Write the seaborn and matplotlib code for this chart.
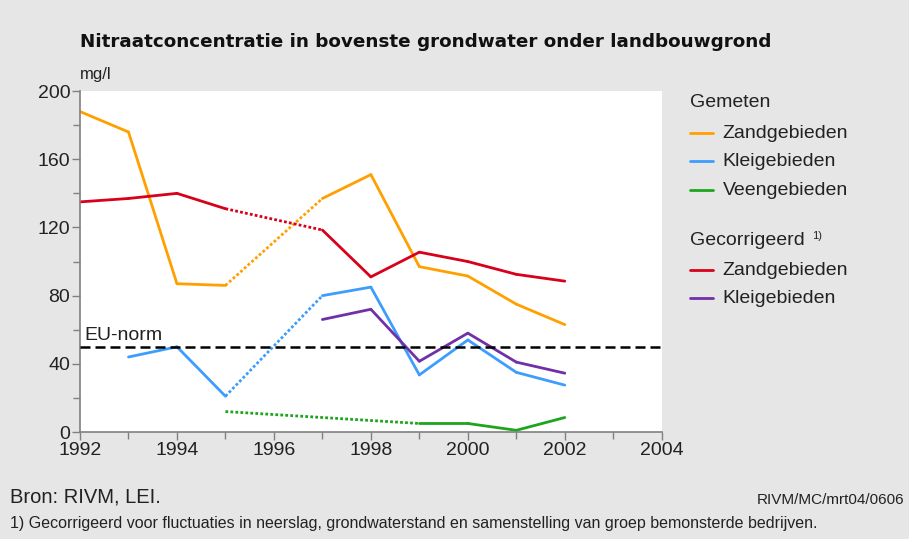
import matplotlib
matplotlib.use("Agg")
import matplotlib.pyplot as plt
import pandas as pd
import seaborn as sns
from matplotlib.lines import Line2D

# measured (gemeten) and corrected (gecorrigeerd) nitrate concentrations, mg/l
years_zand = [1992, 1993, 1994, 1995, 1997, 1998, 1999, 2000, 2001, 2002]
zand_gemeten = [188, 176, 87, 86, 137, 151, 97, 91.5, 75, 63]
years_klei = [1993, 1994, 1995, 1997, 1998, 1999, 2000, 2001, 2002]
klei_gemeten = [44, 50, 21, 80, 85, 33.5, 54, 35, 27.5]
years_veen = [1995, 1999, 2000, 2001, 2002]
veen_gemeten = [12, 5, 5, 1, 8.5]
years_zand_corr = [1992, 1993, 1994, 1995, 1997, 1998, 1999, 2000, 2001, 2002]
zand_gecorrigeerd = [135, 137, 140, 131, 118.5, 91, 105.5, 100, 92.5, 88.5]
years_klei_corr = [1997, 1998, 1999, 2000, 2001, 2002]
klei_gecorrigeerd = [66, 72, 41.5, 58, 41, 34.5]
eu_norm = 50

SERIES = [
    ("Zandgebieden (gemeten)", years_zand, zand_gemeten, "#ffa000"),
    ("Kleigebieden (gemeten)", years_klei, klei_gemeten, "#3d9dff"),
    ("Veengebieden (gemeten)", years_veen, veen_gemeten, "#1ea51e"),
    ("Zandgebieden (gecorrigeerd)", years_zand_corr, zand_gecorrigeerd, "#d8001a"),
    ("Kleigebieden (gecorrigeerd)", years_klei_corr, klei_gecorrigeerd, "#7030a8"),
]


def build_segments() -> pd.DataFrame:
    # consecutive years -> solid piece, a gap in the years -> dotted bridge
    rows = []
    seg = 0
    for name, years, values, _ in SERIES:
        for i in range(len(years) - 1):
            kind = "solid" if years[i + 1] - years[i] == 1 else "dotted"
            seg += 1
            for j in (i, i + 1):
                rows.append({"series": name, "jaar": years[j], "waarde": values[j],
                             "seg": seg, "kind": kind})
    return pd.DataFrame(rows)


df = build_segments()
palette = {name: color for name, _, _, color in SERIES}

sns.set_theme(style="white")
plt.rcParams["font.family"] = ["Liberation Sans", "DejaVu Sans"]

fig = plt.figure(figsize=(9.09, 5.39), dpi=100, facecolor="#e6e6e6")
ax = fig.add_axes([0.088, 0.1985, 0.640, 0.6325])
ax.set_facecolor("white")

sns.lineplot(data=df, x="jaar", y="waarde", hue="series", units="seg", style="kind",
             dashes={"solid": "", "dotted": (1.0, 0.8)}, estimator=None,
             palette=palette, linewidth=2.0, legend=False, ax=ax)
ax.axhline(eu_norm, color="black", linestyle=(0, (4, 2)), linewidth=1.8, zorder=5)
ax.text(1992.1, eu_norm + 1.5, "EU-norm", fontsize=14, color="#222222", va="bottom")

ax.set_xlim(1992, 2004)
ax.set_ylim(0, 200)
ax.set_xticks(range(1992, 2005, 2))
ax.set_xticks(range(1992, 2005), minor=True)
ax.set_yticks(range(0, 201, 40))
ax.set_yticks(range(0, 201, 20), minor=True)
ax.set_xlabel("")
ax.set_ylabel("")
for side in ("top", "right"):
    ax.spines[side].set_visible(False)
for side in ("left", "bottom"):
    ax.spines[side].set_color("#808080")
    ax.spines[side].set_linewidth(1.2)
ax.tick_params(which="both", direction="out", color="#808080", width=1.0,
               labelsize=14, labelcolor="#222222", bottom=True, left=True)
ax.tick_params(which="major", length=6, pad=1)
ax.tick_params(which="minor", length=5)

fig.text(0.088, 0.922, "Nitraatconcentratie in bovenste grondwater onder landbouwgrond",
         fontsize=13.2, fontweight="bold", family="DejaVu Sans", color="#111111", va="center")
fig.text(0.088, 0.862, "mg/l", fontsize=12, color="#222222", va="center")

# legend with two group headings
legend_rows = [
    ("Gemeten", None, 0.810),
    ("Zandgebieden", "#ffa000", 0.753),
    ("Kleigebieden", "#3d9dff", 0.701),
    ("Veengebieden", "#1ea51e", 0.647),
    ("Gecorrigeerd", None, 0.553),
    ("Zandgebieden", "#d8001a", 0.499),
    ("Kleigebieden", "#7030a8", 0.447),
]
for label, color, y in legend_rows:
    if color is None:
        fig.text(0.759, y, label, fontsize=14, color="#222222", va="center")
    else:
        fig.add_artist(Line2D([0.759, 0.784], [y, y], color=color, linewidth=2.0,
                              transform=fig.transFigure))
        fig.text(0.795, y, label, fontsize=14, color="#222222", va="center")
fig.text(0.893, 0.562, "1)", fontsize=8, color="#222222", va="center")

fig.text(0.011, 0.077, "Bron: RIVM, LEI.", fontsize=14.5, color="#222222", va="center")
fig.text(0.833, 0.072, "RIVM/MC/mrt04/0606", fontsize=11, color="#222222", va="center")
fig.text(0.011, 0.029, "1) Gecorrigeerd voor fluctuaties in neerslag, grondwaterstand en "
         "samenstelling van groep bemonsterde bedrijven.", fontsize=11.5, color="#222222",
         va="center")

fig.savefig("out.png", dpi=100, facecolor=fig.get_facecolor())
